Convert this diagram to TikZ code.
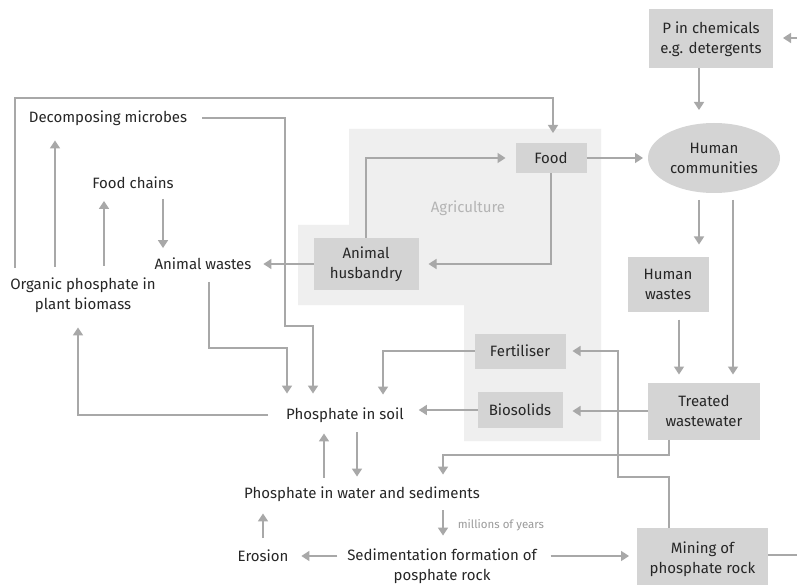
\documentclass[tikz,border=0pt]{standalone}
\usepackage{fontspec}
\setmainfont{Fira Sans}
\usetikzlibrary{arrows.meta,shapes.geometric}
\definecolor{ln}{HTML}{A8A8A8}
\definecolor{bx}{HTML}{D4D4D4}
\definecolor{bg}{HTML}{EFEFEF}
\definecolor{tx}{HTML}{262626}
\definecolor{ag}{HTML}{B4B4B4}
\definecolor{my}{HTML}{9A9A9A}
\begin{document}
\begin{tikzpicture}[x=1pt,y=-1pt,
  lbl/.style={font=\fontsize{15}{20}\selectfont, text=tx, inner sep=0pt, outer sep=0pt, align=center},
  box/.style={lbl, fill=bx},
  arr/.style={draw=ln, line width=1.6pt, -{Triangle[length=8pt,width=10pt]}},
  plain/.style={draw=ln, line width=1.6pt}
]
\useasboundingbox (0,0) rectangle (797,585);
\clip (0,0) rectangle (797,585);
\fill[white] (0,0) rectangle (797,585);
% agriculture region
\fill[bg] (349,129) -- (601,129) -- (601,441) -- (464,441) -- (464,305) -- (298,305) -- (298,225) -- (349,225) -- cycle;
\node[lbl, text=ag] (agri) at (468,208) {Agriculture};
% boxes
\node[box, minimum width=124pt, minimum height=59pt] (pchem) at (711,39) {P in chemicals\\e.g. detergents};
\node[box, ellipse, minimum width=132pt, minimum height=70pt] (human) at (714,158) {Human\\communities};
\node[box, minimum width=71pt, minimum height=30pt] (food) at (551,158) {Food};
\node[box, minimum width=105pt, minimum height=52pt] (ah) at (366,264) {Animal\\husbandry};
\node[box, minimum width=81pt, minimum height=55pt] (hw) at (668,284) {Human\\wastes};
\node[box, minimum width=112pt, minimum height=57pt] (tw) at (704,411) {Treated\\wastewater};
\node[box, minimum width=91pt, minimum height=35pt] (fert) at (520,351) {Fertiliser};
\node[box, minimum width=85pt, minimum height=36pt] (bio) at (520,410) {Biosolids};
\node[box, minimum width=131pt, minimum height=62pt] (mining) at (702.5,559) {Mining of\\phosphate rock};
% text nodes
\node[lbl] (dm) at (108,118) {Decomposing microbes};
\node[lbl] (fc) at (133,183) {Food chains};
\node[lbl] (aw) at (203,264) {Animal wastes};
\node[lbl] (op) at (83,295) {Organic phosphate in\\plant biomass};
\node[lbl] (ps) at (345,415) {Phosphate in soil};
\node[lbl] (pw) at (362,494) {Phosphate in water and sediments};
\node[lbl] (er) at (263,556) {Erosion};
\node[lbl] (sed) at (442,566) {Sedimentation formation of\\posphate rock};
\coordinate (rin) at (797,38);
\coordinate (rout) at (797,555);
% connectors
\draw[arr, shorten >=10pt] (rin) -- (rin -| pchem.east);
\draw[arr, shorten >=13pt] (pchem.south -| 699,0) -- (human.north -| 699,0);
\draw[arr, shorten >=5pt] (food.east) -- (human.west);
\draw[arr, shorten <=10pt, shorten >=10pt] (op.north -| 15,0) -- (15,98) -| (food.north -| 553,0);
\draw[arr, shorten <=11pt, shorten >=15pt] (op.north -| 55,0) -- (dm.south -| 55,0);
\draw[arr, shorten <=12pt, shorten >=12pt] (op.north -| 104,0) -- (fc.south -| 104,0);
\draw[arr, shorten <=10pt, shorten >=10pt] (fc.south -| 163,0) -- (aw.north -| 163,0);
\draw[arr, shorten >=12pt] (ah.west) -- (aw.east);
\draw[arr, shorten <=12pt, shorten >=14pt] (aw.south -| 209,0) -- (209,348) -| (ps.north -| 287,0);
\draw[arr, shorten <=15pt, shorten >=14pt] (dm.east) -- (285,118) -- (285,326) -| (ps.north -| 313,0);
\draw[arr, shorten >=10pt] (ah.north) |- (food.west);
\draw[arr, shorten >=10pt] (food.south) |- (ah.east);
\draw[arr, shorten <=7pt, shorten >=12pt] (human.south -| 699,0) -- (hw.north -| 699,0);
\draw[arr, shorten <=7pt, shorten >=8pt] (human.south -| 733,0) -- (tw.north -| 733,0);
\draw[arr, shorten <=8pt, shorten >=8pt] (hw.south -| 679,0) -- (tw.north -| 679,0);
\draw[arr, shorten >=10pt] (tw.west) -- (tw.west -| bio.east);
\draw[arr, shorten >=7pt] (mining.north -| 669,0) -- (669,477) -- (618,477) |- (fert.east);
\draw[arr, shorten >=12pt] (tw.south -| 669,0) -- (669,455) -| (pw.north -| 443,0);
\draw[arr, shorten >=13pt] (fert.west) -| (ps.north -| 383,0);
\draw[arr, shorten >=15pt] (bio.west) -- (bio.west -| ps.east);
\draw[arr, shorten <=18pt, shorten >=15pt] (ps.west) -| (op.south -| 78,0);
\draw[arr, shorten <=10pt, shorten >=10pt] (ps.south -| 357,0) -- (pw.north -| 357,0);
\draw[arr, shorten <=9pt, shorten >=11pt] (pw.north -| 324,0) -- (ps.south -| 324,0);
\draw[arr, shorten <=9pt, shorten >=13pt] (pw.south -| 443,0) -- node[midway, anchor=west, xshift=14pt, inner sep=0pt, font=\fontsize{11.5}{13}\selectfont, text=my] {millions of years} (sed.north -| 443,0);
\draw[arr, shorten <=12pt, shorten >=12pt] (er.north) -- (er.north |- pw.south);
\draw[arr, shorten <=10pt, shorten >=13pt] (er.east -| sed.west) -- (er.east);
\draw[arr, shorten <=14pt, shorten >=8pt] (er.east -| sed.east) -- (er.east -| mining.west);
\draw[plain] (mining.east |- rout) -- (rout);
\end{tikzpicture}
\end{document}
